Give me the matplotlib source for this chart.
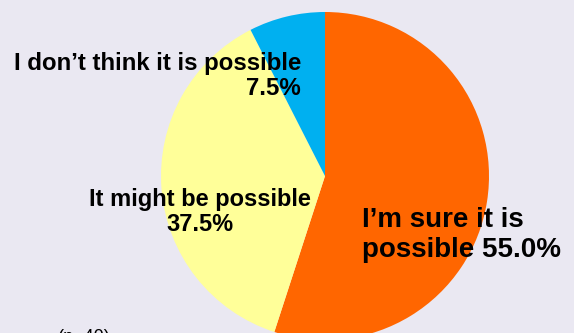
import numpy as np
import matplotlib.pyplot as plt

plt.rcParams['font.family'] = ['Liberation Sans', 'DejaVu Sans']

answers = ['I’m sure it is possible', 'It might be possible', 'I don’t think it is possible']
shares = [55.0, 37.5, 7.5]
colours = ['#FF6600', '#FFFF99', '#00B0F0']
sample = 40

W, H = 574, 333
fig = plt.figure(figsize=(W / 100, H / 100), dpi=100)
fig.patch.set_facecolor('#EAE8F2')
ax = fig.add_axes([0, 0, 1, 1])
ax.set_facecolor('#EAE8F2')

ax.pie(shares, colors=colours, startangle=90, counterclock=False,
       center=(325, H - 176), radius=164, frame=True,
       wedgeprops=dict(linewidth=0))
ax.set_xlim(0, W)
ax.set_ylim(0, H)
ax.set_aspect('equal')
ax.axis('off')

ax.text(362, H - 235, '%s\n%s %.1f%%' % ('I’m sure it is', 'possible', shares[0]),
        ha='left', va='center', fontsize=20, fontweight='bold', linespacing=1.22)
ax.text(200, H - 212, '%s\n%.1f%%' % (answers[1], shares[1]),
        ha='center', va='center', fontsize=17, fontweight='bold', linespacing=1.12)
ax.text(301, H - 76, '%s\n%.1f%%' % (answers[2], shares[2]),
        ha='right', va='center', fontsize=17.3, fontweight='bold', linespacing=1.12)
ax.text(58, H - 329, '(n=%d)' % sample, ha='left', va='top', fontsize=13)

fig.savefig('out.png', dpi=100, facecolor=fig.get_facecolor())
